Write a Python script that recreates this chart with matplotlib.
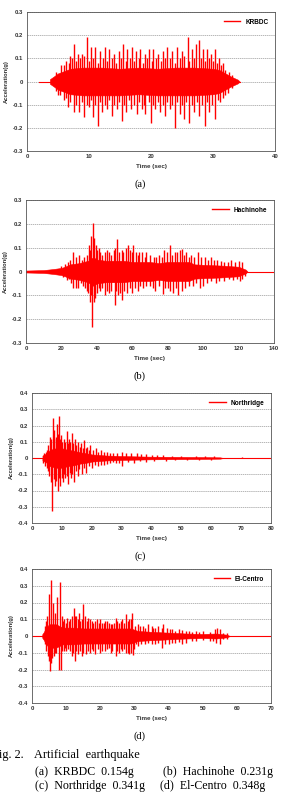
import matplotlib

matplotlib.use("Agg")
import matplotlib.pyplot as plt
from matplotlib.lines import Line2D

RED = "#ff0000"

# ---- (a) KRBDC --------------------------------------------------------------
krbdc_span = [2.0, 34.3]
krbdc_env_t = [3.7, 4.5, 5.0, 6.0, 7.0, 9.0, 12.0, 15.0, 18.0, 21.0, 24.0, 27.0, 30.0, 31.0, 32.0, 33.0, 34.0, 34.3]
krbdc_env_hi = [0.01, 0.025, 0.035, 0.045, 0.055, 0.06, 0.06, 0.055, 0.06, 0.055, 0.06, 0.06, 0.055, 0.05, 0.035, 0.02, 0.008, 0.0]
krbdc_env_lo = [-0.01, -0.025, -0.035, -0.045, -0.055, -0.06, -0.06, -0.06, -0.055, -0.06, -0.06, -0.06, -0.055, -0.05, -0.035, -0.02, -0.008, 0.0]
# tall peaks
krbdc_peak_t = [5.5, 6.3, 7.0, 7.6, 8.2, 8.8, 9.6, 10.3, 11.0, 11.8, 12.6, 13.3, 14.0, 14.8, 15.5, 16.2, 16.9,
                17.6, 18.3, 19.0, 19.7, 20.4, 21.2, 22.0, 22.6, 23.4, 24.2, 25.0, 25.9, 26.6, 27.2, 27.7, 28.4,
                29.0, 29.6, 30.4, 31.0, 31.6,
                5.0, 6.0, 6.6, 7.5, 8.4, 9.2, 10.0, 10.6, 11.4, 12.1, 12.9, 13.7, 14.5, 15.3, 16.0, 16.8, 17.7,
                18.5, 19.1, 20.0, 20.7, 21.5, 22.2, 23.0, 23.8, 24.6, 25.3, 26.2, 27.0, 27.8, 28.7, 29.4, 30.4,
                31.2, 32.0]
krbdc_peak_v = [0.07, 0.09, 0.11, 0.16, 0.12, 0.12, 0.19, 0.15, 0.15, 0.13, 0.15, 0.14, 0.12, 0.13, 0.16, 0.14, 0.15,
                0.13, 0.14, 0.12, 0.14, 0.14, 0.12, 0.13, 0.15, 0.13, 0.15, 0.13, 0.19, 0.14, 0.16, 0.18, 0.14,
                0.14, 0.12, 0.14, 0.10, 0.08,
                -0.06, -0.08, -0.11, -0.13, -0.13, -0.155, -0.11, -0.155, -0.19, -0.13, -0.12, -0.15, -0.12, -0.17,
                -0.13, -0.12, -0.14, -0.12, -0.14, -0.18, -0.12, -0.13, -0.15, -0.12, -0.20, -0.14, -0.16, -0.18,
                -0.13, -0.15, -0.19, -0.13, -0.16, -0.09, -0.06]
# intermediate peaks
krbdc_mid_t = [4.6, 5.9, 6.7, 7.3, 7.9, 8.5, 9.2, 10.0, 10.7, 11.4, 12.2, 12.9, 13.7, 14.4, 15.2, 15.9, 16.6, 17.3,
               18.0, 18.7, 19.4, 20.1, 20.8, 21.6, 22.3, 23.0, 23.8, 24.6, 25.4, 26.2, 26.9, 28.1, 28.7, 29.3,
               30.0, 30.7, 31.3, 32.0, 32.5, 33.0,
               4.7, 5.4, 6.3, 7.0, 7.9, 8.8, 9.6, 10.3, 11.0, 11.8, 12.5, 13.3, 14.1, 14.9, 15.7, 16.4, 17.2,
               18.1, 18.8, 19.6, 20.4, 21.1, 21.9, 22.6, 23.4, 24.2, 25.0, 25.7, 26.6, 27.4, 28.2, 29.0, 29.8,
               30.8, 31.6, 32.4, 33.0]
krbdc_mid_v = [0.04, 0.07, 0.08, 0.10, 0.09, 0.10, 0.11, 0.09, 0.10, 0.08, 0.10, 0.09, 0.10, 0.08, 0.10, 0.09,
               0.10, 0.09, 0.10, 0.08, 0.10, 0.09, 0.10, 0.09, 0.10, 0.10, 0.08, 0.10, 0.11, 0.09, 0.10, 0.10,
               0.09, 0.10, 0.09, 0.08, 0.07, 0.05, 0.04, 0.03,
               -0.04, -0.06, -0.07, -0.09, -0.10, -0.09, -0.10, -0.08, -0.10, -0.09, -0.10, -0.08, -0.10, -0.09,
               -0.10, -0.08, -0.10, -0.09, -0.10, -0.09, -0.10, -0.09, -0.10, -0.09, -0.10, -0.09, -0.10, -0.09,
               -0.10, -0.09, -0.10, -0.09, -0.10, -0.08, -0.07, -0.05, -0.03]

# ---- (b) Hachinohe ----------------------------------------------------------
hachi_span = [0.0, 140.0]
hachi_env_t = [0, 10, 15, 20, 22, 25, 30, 35, 38, 40, 45, 55, 60, 70, 75, 80, 92, 95, 100, 110, 120, 124, 125]
hachi_env_hi = [0.004, 0.006, 0.01, 0.015, 0.02, 0.03, 0.035, 0.045, 0.06, 0.05, 0.045, 0.045, 0.04, 0.04, 0.035,
                0.04, 0.04, 0.03, 0.028, 0.025, 0.02, 0.008, 0.0]
hachi_env_lo = [-0.004, -0.006, -0.01, -0.015, -0.02, -0.03, -0.035, -0.045, -0.06, -0.05, -0.045, -0.045, -0.04,
                -0.04, -0.035, -0.04, -0.04, -0.03, -0.028, -0.025, -0.02, -0.008, 0.0]
hachi_peak_t = [22, 25, 26.8, 30, 33, 35.5, 36.8, 37.7, 39.5, 41, 43, 46, 48, 51.4, 54, 56.5, 57.4, 60.6, 64, 68,
                72, 75, 78, 81.2, 84, 87, 87.8, 93, 97, 101, 106, 110, 114, 122,
                24, 26.5, 29.5, 32, 35, 36.2, 37.3, 38.6, 40, 42, 44.5, 47, 50.3, 52, 54, 57, 60, 63, 66, 70,
                73, 77.5, 80, 83, 86, 90, 94, 98, 102, 107, 112, 117, 122]
hachi_peak_v = [0.03, 0.05, 0.08, 0.07, 0.06, 0.11, 0.15, 0.205, 0.11, 0.10, 0.07, 0.09, 0.07, 0.135, 0.09, 0.10,
                0.11, 0.11, 0.08, 0.08, 0.06, 0.07, 0.09, 0.11, 0.08, 0.09, 0.095, 0.07, 0.08, 0.06, 0.05, 0.045,
                0.04, 0.038,
                -0.03, -0.07, -0.07, -0.06, -0.09, -0.13, -0.233, -0.13, -0.09, -0.08, -0.10, -0.09, -0.14, -0.10,
                -0.12, -0.09, -0.09, -0.08, -0.07, -0.06, -0.08, -0.093, -0.07, -0.09, -0.10, -0.07, -0.06, -0.07,
                -0.05, -0.05, -0.04, -0.035, -0.03]
hachi_mid_t = [20, 23.5, 28, 31.5, 34.5, 36, 38.5, 40, 42, 44.5, 47, 49.5, 50.5, 52.5, 55, 58.5, 59.7, 62, 63,
               65.5, 67, 70, 73.5, 76.5, 79.5, 82.5, 85.5, 89, 90.5, 92, 95, 99, 103, 104.5, 108, 112, 116, 118,
               120,
               21, 23, 25.5, 28, 31, 33.5, 34.5, 36.8, 39, 41, 43, 46, 48, 51, 53, 55.5, 58.5, 61.5, 64.5, 68,
               71.5, 75, 78.5, 81.5, 84.5, 88, 92, 96, 100, 104.5, 109, 114.5, 119, 121, 123.5]
hachi_mid_v = [0.025, 0.04, 0.06, 0.05, 0.07, 0.09, 0.14, 0.09, 0.08, 0.08, 0.08, 0.09, 0.10, 0.08, 0.08, 0.09,
               0.08, 0.08, 0.07, 0.08, 0.06, 0.07, 0.06, 0.06, 0.08, 0.07, 0.08, 0.07, 0.08, 0.06, 0.06, 0.06,
               0.05, 0.06, 0.05, 0.04, 0.05, 0.04, 0.045,
               -0.025, -0.035, -0.05, -0.07, -0.05, -0.07, -0.08, -0.10, -0.11, -0.07, -0.07, -0.08, -0.08, -0.08,
               -0.09, -0.08, -0.07, -0.07, -0.06, -0.06, -0.07, -0.06, -0.07, -0.08, -0.07, -0.08, -0.06, -0.05,
               -0.06, -0.04, -0.04, -0.03, -0.03, -0.04, -0.02]

# ---- (c) Northridge ---------------------------------------------------------
north_span = [0.0, 80.0]
north_env_t = [3.5, 5, 6, 8, 10, 12, 14, 16, 18, 20, 25, 30, 40, 55, 63, 64]
north_env_hi = [0.015, 0.03, 0.05, 0.06, 0.06, 0.05, 0.045, 0.035, 0.03, 0.022, 0.015, 0.012, 0.008, 0.006, 0.004, 0.0]
north_env_lo = [-0.015, -0.03, -0.05, -0.06, -0.06, -0.05, -0.045, -0.035, -0.03, -0.022, -0.015, -0.012, -0.008,
                -0.006, -0.004, 0.0]
north_peak_t = [4.0, 5.0, 6.1, 6.3, 6.9, 7.5, 8.4, 9.1, 9.8, 10.6, 11.7, 12.4, 13.3, 14.3, 15.5, 16.5, 17.5,
                18.5, 19.5, 21.5, 23, 25, 27, 30, 33, 35, 38, 42, 47, 55, 70.2,
                4.3, 5.5, 6.2, 6.8, 7.6, 8.7, 9.5, 10.3, 11.0, 12.2, 13.0, 14.0, 15.3, 16.8, 18.2, 20, 22, 24, 26,
                28, 30, 34, 38, 45, 52]
north_peak_v = [0.03, 0.05, 0.13, 0.12, 0.245, 0.17, 0.21, 0.26, 0.14, 0.12, 0.165, 0.12, 0.155, 0.12, 0.10,
                0.09, 0.11, 0.07, 0.08, 0.06, 0.05, 0.04, 0.03, 0.04, 0.03, 0.03, 0.025, 0.02, 0.015, 0.015, 0.006,
                -0.05, -0.08, -0.15, -0.325, -0.17, -0.205, -0.17, -0.15, -0.12, -0.16, -0.12, -0.15, -0.11, -0.10,
                -0.09, -0.06, -0.05, -0.04, -0.03, -0.03, -0.05, -0.03, -0.025, -0.02, -0.015]
north_mid_t = [4.6, 5.4, 7.2, 7.9, 8.7, 9.5, 10.2, 11.0, 12.0, 12.8, 13.8, 14.8, 16.0, 17.0, 18.0, 19.0, 20.5,
               22.2, 24, 26, 28.5, 31.5, 36.5, 40, 44, 50, 58, 61,
               3.8, 4.9, 5.8, 7.2, 8.0, 9.0, 9.9, 10.7, 11.6, 12.6, 13.5, 14.6, 15.8, 17.5, 19, 21, 23, 25, 27,
               29, 32, 36, 41, 48, 56, 60]
north_mid_v = [0.04, 0.08, 0.12, 0.13, 0.15, 0.12, 0.10, 0.10, 0.09, 0.10, 0.09, 0.08, 0.07, 0.06, 0.06, 0.05,
               0.05, 0.04, 0.035, 0.03, 0.03, 0.03, 0.025, 0.02, 0.02, 0.015, 0.012, 0.01,
               -0.03, -0.06, -0.11, -0.13, -0.14, -0.12, -0.12, -0.10, -0.11, -0.09, -0.10, -0.08, -0.07, -0.06,
               -0.05, -0.045, -0.04, -0.035, -0.025, -0.03, -0.025, -0.02, -0.02, -0.015, -0.012, -0.01]

# ---- (d) El-Centro ----------------------------------------------------------
elc_span = [0.0, 70.0]
elc_env_t = [3.0, 3.5, 4.0, 5.0, 7.0, 9.0, 12.0, 15.0, 20.0, 25.0, 29.0, 31.0, 35.0, 40.0, 45.0, 50.0, 54.0, 57.0, 58.0]
elc_env_hi = [0.01, 0.025, 0.045, 0.07, 0.07, 0.05, 0.05, 0.045, 0.045, 0.045, 0.045, 0.03, 0.025, 0.02, 0.015,
              0.012, 0.015, 0.008, 0.0]
elc_env_lo = [-0.01, -0.025, -0.045, -0.07, -0.07, -0.05, -0.05, -0.045, -0.045, -0.045, -0.045, -0.03, -0.025,
              -0.02, -0.015, -0.012, -0.015, -0.008, 0.0]
elc_peak_t = [4.5, 5.0, 5.5, 6.2, 7.4, 8.1, 8.8, 9.5, 10.3, 11.6, 12.2, 13.0, 13.8, 14.5, 15.0, 16.5, 17.5, 19,
              20.5, 22, 23.5, 24.5, 26, 27.4, 28.4, 29.4, 31, 32.5, 34, 35.5, 37, 38.5, 41, 43, 46, 50, 54.3, 56,
              4.2, 5.2, 6.0, 6.6, 7.8, 8.4, 9.3, 10.5, 11.6, 12.5, 13.5, 14.5, 15.8, 17, 18.5, 20, 21.5, 23, 24.5,
              26, 27.5, 28.5, 29.6, 31, 33, 36, 38, 40, 42, 45, 48, 52, 55]
elc_peak_v = [0.12, 0.25, 0.332, 0.20, 0.23, 0.32, 0.12, 0.10, 0.11, 0.12, 0.17, 0.12, 0.14, 0.10, 0.19, 0.11,
              0.09, 0.10, 0.08, 0.09, 0.07, 0.11, 0.09, 0.13, 0.10, 0.14, 0.07, 0.06, 0.07, 0.05, 0.06, 0.07, 0.04,
              0.04, 0.03, 0.03, 0.05, 0.02,
              -0.09, -0.21, -0.13, -0.10, -0.20, -0.20, -0.09, -0.08, -0.12, -0.152, -0.11, -0.12, -0.11, -0.10,
              -0.11, -0.10, -0.09, -0.10, -0.12, -0.08, -0.10, -0.11, -0.116, -0.06, -0.05, -0.05, -0.07, -0.05,
              -0.04, -0.04, -0.03, -0.03, -0.045]
elc_mid_t = [3.8, 4.0, 6.7, 9.2, 9.9, 10.7, 11.2, 12.7, 13.4, 14.2, 15.6, 16.0, 17.0, 18.0, 18.5, 19.6, 20.0, 21,
             21.5, 22.6, 23.0, 24, 25, 25.5, 26.5, 27.0, 28, 29, 30.2, 31.5, 33, 35, 36, 38, 39.5, 40.5, 42, 44,
             45, 47, 48, 49, 52, 53.5, 55, 57,
             3.9, 4.6, 4.9, 5.7, 6.3, 7.0, 8.8, 9.8, 10.0, 11.0, 12.0, 13.0, 14.0, 15.0, 16.3, 17.6, 18.0, 19.2,
             20.5, 22, 22.5, 23.5, 25, 25.5, 26.5, 27.0, 28.0, 29.0, 30, 30.5, 32, 34, 35, 37, 39, 41, 43, 44,
             47, 50, 53, 54, 56, 57]
elc_mid_v = [0.06, 0.09, 0.14, 0.09, 0.08, 0.09, 0.10, 0.12, 0.10, 0.09, 0.12, 0.09, 0.10, 0.08, 0.09, 0.08, 0.10,
             0.08, 0.09, 0.08, 0.07, 0.08, 0.09, 0.08, 0.10, 0.08, 0.09, 0.10, 0.06, 0.06, 0.05, 0.06, 0.05, 0.05,
             0.05, 0.04, 0.03, 0.035, 0.03, 0.025, 0.03, 0.025, 0.025, 0.04, 0.04, 0.015,
             -0.05, -0.12, -0.15, -0.16, -0.12, -0.10, -0.09, -0.07, -0.09, -0.09, -0.10, -0.09, -0.09, -0.10,
             -0.09, -0.08, -0.09, -0.08, -0.09, -0.08, -0.07, -0.09, -0.09, -0.10, -0.09, -0.08, -0.10, -0.10,
             -0.08, -0.05, -0.05, -0.04, -0.05, -0.04, -0.05, -0.04, -0.035, -0.05, -0.03, -0.025, -0.03, -0.04,
             -0.02, -0.02]

panels = [
    ("KRBDC", krbdc_span, krbdc_env_t, krbdc_env_hi, krbdc_env_lo,
     krbdc_peak_t + krbdc_mid_t, krbdc_peak_v + krbdc_mid_v, 40, 10, 0.3, "(a)", (27, 12, 275, 151)),
    ("Hachinohe", hachi_span, hachi_env_t, hachi_env_hi, hachi_env_lo,
     hachi_peak_t + hachi_mid_t, hachi_peak_v + hachi_mid_v, 140, 20, 0.3, "(b)", (26, 200, 274, 343)),
    ("Northridge", north_span, north_env_t, north_env_hi, north_env_lo,
     north_peak_t + north_mid_t, north_peak_v + north_mid_v, 80, 10, 0.4, "(c)", (32, 393, 271, 523)),
    ("El-Centro", elc_span, elc_env_t, elc_env_hi, elc_env_lo,
     elc_peak_t + elc_mid_t, elc_peak_v + elc_mid_v, 70, 10, 0.4, "(d)", (32, 569, 271, 703)),
]

W, H = 281, 798
fig = plt.figure(figsize=(W / 100, H / 100), dpi=100)
plt.rcParams["font.family"] = ["Liberation Sans", "DejaVu Sans"]
serif = ["Liberation Serif", "DejaVu Serif"]


def fmt(v):
    return "0" if abs(v) < 1e-9 else f"{v:.1f}"


for name, span, et, ehi, elo, st, sv, xmax, xstep, ylim, cap, (l, t, r, b) in panels:
    ax = fig.add_axes([l / W, 1 - b / H, (r - l) / W, (b - t) / H])
    ax.plot(span, [0, 0], color=RED, lw=0.8)
    ax.fill_between(et, elo, ehi, color=RED, lw=0.4)
    ax.vlines(st, 0, sv, color=RED, lw=1.0)
    ax.set_xlim(0, xmax)
    ax.set_ylim(-ylim, ylim)
    ax.set_xticks(range(0, xmax + 1, xstep))
    yt = [round(-ylim + 0.1 * i, 1) for i in range(int(round(ylim * 20)) + 1)]
    ax.set_yticks(yt)
    ax.set_yticklabels([fmt(v) for v in yt])
    ax.yaxis.grid(True, color="#9a9a9a", lw=0.5, ls=(0, (2, 1)))
    ax.set_axisbelow(True)
    ax.tick_params(length=0, pad=2.5, labelsize=4.3)
    for lab in ax.get_xticklabels() + ax.get_yticklabels():
        lab.set_fontweight("bold")
        lab.set_color("#333333")
    for sp in ax.spines.values():
        sp.set_color("#555555")
        sp.set_linewidth(0.6)
    ax.set_xlabel("Time (sec)", fontsize=4.5, fontweight="bold", color="#333333", labelpad=3)
    ax.set_ylabel("Acceleration(g)", fontsize=4.2, fontweight="bold", color="#333333", labelpad=3)
    ax.legend([Line2D([0], [0], color=RED, lw=1)], [name], loc="upper right", frameon=False,
              prop={"size": 4.7, "weight": "bold"}, handlelength=2.5, borderaxespad=0.6)
    fig.text(140 / W, 1 - (b + 33) / H, cap, ha="center", va="center", fontsize=7.5, family=serif)

fig.text(24 / W, 1 - 755 / H, "Fig. 2.", ha="right", va="center", fontsize=8.8, family=serif)
fig.text(34 / W, 1 - 755 / H, "Artificial  earthquake", ha="left", va="center", fontsize=8.8, family=serif)
fig.text(35 / W, 1 - 772 / H, "(a)  KRBDC  0.154g", ha="left", va="center", fontsize=8.6, family=serif)
fig.text(163 / W, 1 - 772 / H, "(b)  Hachinohe  0.231g", ha="left", va="center", fontsize=8.6, family=serif)
fig.text(35 / W, 1 - 786 / H, "(c)  Northridge  0.341g", ha="left", va="center", fontsize=8.6, family=serif)
fig.text(160 / W, 1 - 786 / H, "(d)  El-Centro  0.348g", ha="left", va="center", fontsize=8.6, family=serif)

fig.savefig("out.png", dpi=100)
